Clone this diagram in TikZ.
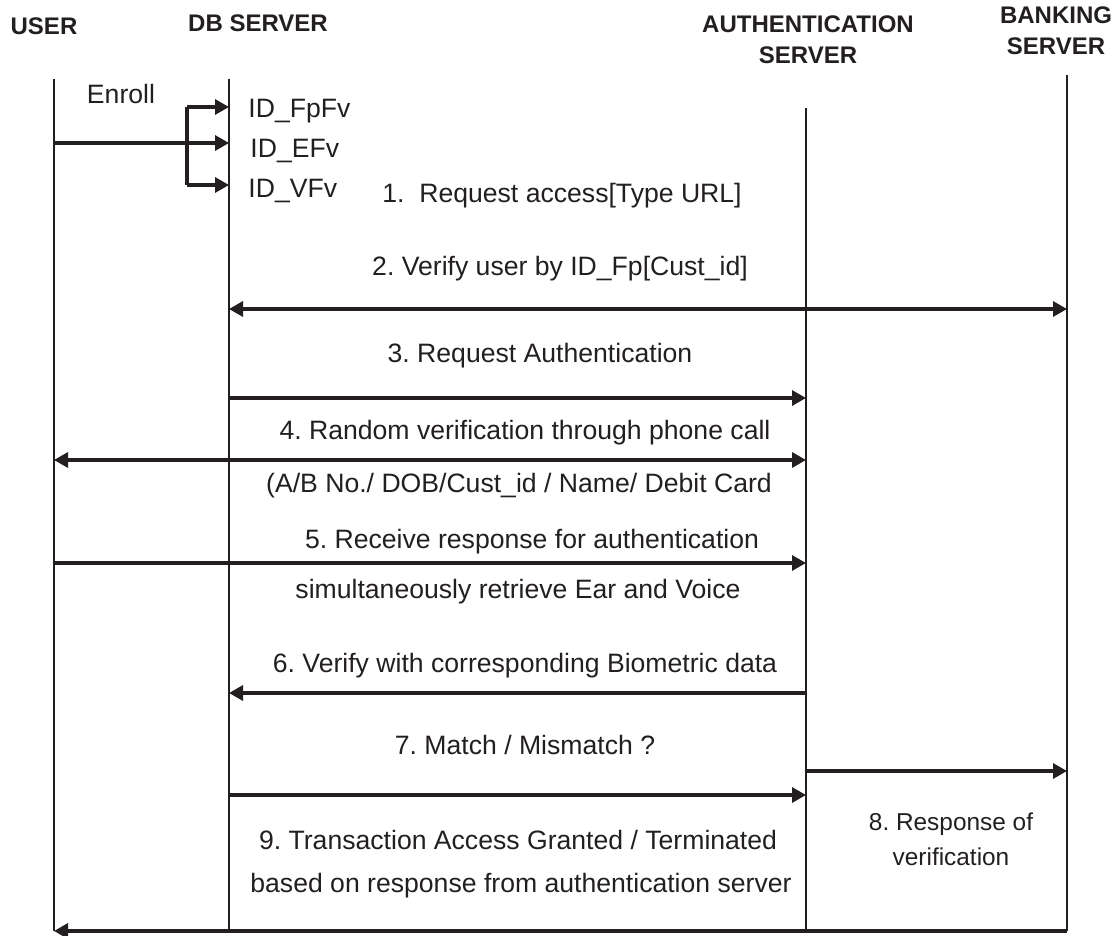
\documentclass[tikz,border=0pt]{standalone}
\usepackage{fontspec}
\setmainfont{Liberation Sans}
\frenchspacing
\usetikzlibrary{arrows.meta}
\definecolor{ink}{HTML}{231F20}
\tikzset{lifeline/.style={draw=ink, line width=1.3pt}}
\tikzset{link/.style={draw=ink, line width=1.6pt}}
\tikzset{msg/.style={link, -{Triangle[length=7pt,width=7.5pt]}}}
\tikzset{twoway/.style={link, {Triangle[length=7pt,width=7.5pt]}-{Triangle[length=7pt,width=7.5pt]}}}
\tikzset{head/.style={text=ink, inner sep=0pt, anchor=base, align=center, font=\bfseries\fontsize{12}{15.5}\selectfont}}
\tikzset{lbl/.style={text=ink, inner sep=0pt, anchor=base, font=\fontsize{13.3}{16}\selectfont}}

\begin{document}
\begin{tikzpicture}[x=0.5pt, y=-0.5pt]

\useasboundingbox (0,0) rectangle (1118,936);

% lifeline tops
\coordinate (user) at (54,79);
\coordinate (db) at (229,79);
\coordinate (auth) at (806,108);
\coordinate (bank) at (1067,75);
\coordinate (fork) at (187,0);

% message rows
\foreach \r/\y in {rfp/107, ref/143, rvf/185, r2/309, r3/398, r4/460, r5/563, r6/693, r7/771, r9/795, rend/931}
  {\coordinate (\r) at (0,\y);}

\foreach \l in {user,db,auth,bank} {\draw [lifeline] (\l) -- (\l |- rend);}

% enrolment
\draw [msg] (user |- ref) -- (db |- ref);
\draw [link] (fork |- rfp) -- (fork |- rvf);
\foreach \r in {rfp,rvf} {\draw [msg] (fork |- \r) -- (db |- \r);}

\draw [twoway] (db |- r2) -- (bank |- r2);
\draw [msg] (db |- r3) -- (auth |- r3);
\draw [twoway] (user |- r4) -- (auth |- r4);
\draw [msg] (user |- r5) -- (auth |- r5);
\draw [msg] (auth |- r6) -- (db |- r6);
\draw [msg] (auth |- r7) -- (bank |- r7);
\draw [msg] (db |- r9) -- (auth |- r9);
\draw [msg] (bank |- rend) -- (user |- rend);

% base of a two-line node sits on its last line
\node [head] (hUser) at (44,35) {USER};
\node [head] (hDb) at (258,32) {DB SERVER};
\node [head] (hAuth) at (808,64) {AUTHENTICATION\\SERVER};
\node [head] (hBank) at (1056,55) {BANKING\\SERVER};

\node [lbl] (enroll) at (121,104) {Enroll};
\node [lbl, anchor=base west] (idFp) at (248,118) {ID\_FpFv};
\node [lbl, anchor=base west] (idE) at (250,158) {ID\_EFv};
\node [lbl, anchor=base west] (idV) at (248,198) {ID\_VFv};

\node [lbl] (t1) at (562,203) {1.\ \ Request access[Type URL]};
\node [lbl] (t2) at (560,276) {2. Verify user by ID\_Fp[Cust\_id]};
\node [lbl] (t3) at (540,362) {3. Request Authentication};
\node [lbl] (t4) at (525,439) {4. Random verification through phone call};
\node [lbl] (t4b) at (519,492) {(A/B No./ DOB/Cust\_id / Name/ Debit Card};
\node [lbl] (t5) at (532,548) {5. Receive response for authentication};
\node [lbl] (t5b) at (518,598) {simultaneously retrieve Ear and Voice};
\node [lbl] (t6) at (525,672) {6. Verify with corresponding Biometric data};
\node [lbl] (t7) at (525,754) {7. Match / Mismatch ?};
\node [lbl, align=center, font=\fontsize{12.2}{17.5}\selectfont] (t8) at (951,865) {8. Response of\\verification};
\node [lbl] (t9) at (518,849) {9. Transaction Access Granted / Terminated};
\node [lbl] (t9b) at (521,892) {based on response from authentication server};

\end{tikzpicture}
\end{document}
